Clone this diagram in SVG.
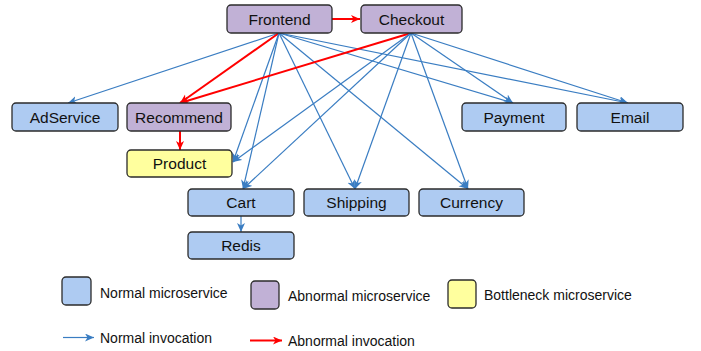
<svg xmlns="http://www.w3.org/2000/svg" width="701" height="351" viewBox="0 0 701 351">
<style>
.n rect{stroke:#2b2b2b;stroke-width:1.3}
.blue{fill:#aecbf2}.purp{fill:#c1b1d6}.yel{fill:#ffff9e}
.n text{font-family:"Liberation Sans",Arial,sans-serif;font-size:15.5px;fill:#111;text-anchor:middle}
.lg{font-family:"Liberation Sans",Arial,sans-serif;font-size:14px;fill:#111}
.b{stroke:#3a7dc2;stroke-width:1.2;fill:none;marker-end:url(#ab)}
.r{stroke:#ff0000;stroke-width:2;fill:none;marker-end:url(#ar)}
</style>
<defs>
<marker id="ab" markerUnits="userSpaceOnUse" markerWidth="12" markerHeight="10" refX="9" refY="4" orient="auto">
<path d="M0,0 L9,4 L0,8 L2.5,4 z" fill="#3a7dc2"/>
</marker>
<marker id="ar" markerUnits="userSpaceOnUse" markerWidth="12" markerHeight="10" refX="9" refY="4" orient="auto">
<path d="M0,0 L9,4 L0,8 L2.5,4 z" fill="#ff0000"/>
</marker>
</defs>
<g id="connectors">
<line class="r" x1="332" y1="19" x2="360" y2="19"/>
<line class="b" x1="279" y1="33" x2="68" y2="103"/>
<line class="r" x1="279" y1="33" x2="180" y2="103"/>
<line class="b" x1="279" y1="33" x2="233" y2="162"/>
<line class="b" x1="279" y1="33" x2="243" y2="189"/>
<line class="b" x1="279" y1="33" x2="355" y2="189"/>
<line class="b" x1="279" y1="33" x2="468" y2="189"/>
<line class="b" x1="279" y1="33" x2="513" y2="103"/>
<line class="b" x1="279" y1="33" x2="628" y2="103"/>
<line class="r" x1="411" y1="33" x2="180" y2="103"/>
<line class="b" x1="411" y1="33" x2="233" y2="162"/>
<line class="b" x1="411" y1="33" x2="243" y2="189"/>
<line class="b" x1="411" y1="33" x2="355" y2="189"/>
<line class="b" x1="411" y1="33" x2="468" y2="189"/>
<line class="b" x1="411" y1="33" x2="513" y2="103"/>
<line class="b" x1="411" y1="33" x2="628" y2="103"/>
<line class="r" x1="180" y1="131" x2="180" y2="150"/>
<line class="b" x1="241" y1="216" x2="241" y2="232"/>
</g>
<g id="Frontend" class="n"><rect class="purp" x="227" y="5" width="105" height="28" rx="4"/><text x="279.5" y="24.5">Frontend</text></g>
<g id="Checkout" class="n"><rect class="purp" x="361" y="5" width="101" height="28" rx="4"/><text x="411.5" y="24.5">Checkout</text></g>
<g id="AdService" class="n"><rect class="blue" x="12" y="103" width="106" height="28" rx="4"/><text x="65" y="122.5">AdService</text></g>
<g id="Recommend" class="n"><rect class="purp" x="127" y="103" width="104" height="28" rx="4"/><text x="179" y="122.5">Recommend</text></g>
<g id="Product" class="n"><rect class="yel" x="127" y="150" width="105" height="27" rx="4"/><text x="179.5" y="169">Product</text></g>
<g id="Payment" class="n"><rect class="blue" x="462" y="103" width="104" height="28" rx="4"/><text x="514" y="122.5">Payment</text></g>
<g id="Email" class="n"><rect class="blue" x="577" y="103" width="106" height="28" rx="4"/><text x="630" y="122.5">Email</text></g>
<g id="Cart" class="n"><rect class="blue" x="188" y="189" width="106" height="27" rx="4"/><text x="241" y="208">Cart</text></g>
<g id="Shipping" class="n"><rect class="blue" x="304" y="189" width="105" height="27" rx="4"/><text x="356.5" y="208">Shipping</text></g>
<g id="Currency" class="n"><rect class="blue" x="419" y="189" width="105" height="27" rx="4"/><text x="471.5" y="208">Currency</text></g>
<g id="Redis" class="n"><rect class="blue" x="188" y="232" width="106" height="27" rx="4"/><text x="241" y="251">Redis</text></g>
<g id="legend">
<g class="n"><rect class="blue" x="62" y="277" width="29" height="28" rx="4"/></g>
<text class="lg" x="100" y="297.5">Normal microservice</text>
<g class="n"><rect class="purp" x="251" y="281" width="28" height="28" rx="4"/></g>
<text class="lg" x="288" y="301">Abnormal microservice</text>
<g class="n"><rect class="yel" x="448" y="280" width="28" height="28" rx="4"/></g>
<text class="lg" x="484" y="299.5">Bottleneck microservice</text>
<line class="b" x1="63" y1="337.5" x2="94" y2="337.5"/>
<text class="lg" x="100" y="343">Normal invocation</text>
<line class="r" x1="250" y1="340.5" x2="282" y2="340.5"/>
<text class="lg" x="288" y="346">Abnormal invocation</text>
</g>
</svg>
